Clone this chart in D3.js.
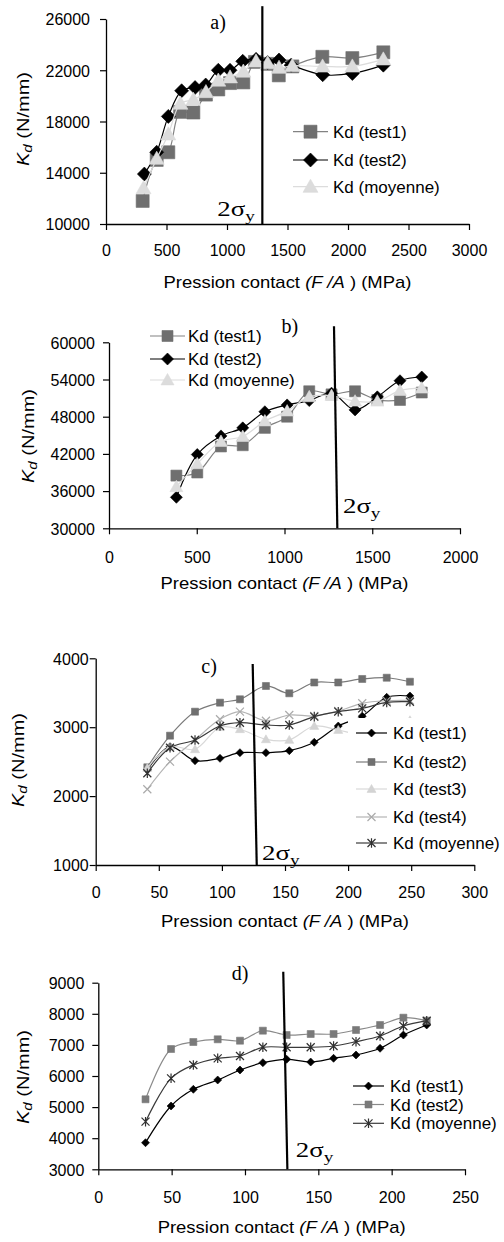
<!DOCTYPE html>
<html><head><meta charset="utf-8">
<script src="https://cdn.jsdelivr.net/npm/d3@7"></script>
<style>
body{margin:0;background:#fff}
svg{display:block}
text{font-family:"Liberation Sans",Arial,sans-serif;fill:#000}
.serif{font-family:"Liberation Serif","Times New Roman",serif}
</style>
</head><body>
<svg id="chart" width="504" height="1242"></svg>
<script>
// ---------- Panel a ----------
const aX1 = [303, 419, 515, 612, 722, 826, 928, 1025, 1135, 1231, 1336, 1428, 1540, 1788, 2036, 2292];
const aX2 = [317, 419, 515, 625, 736, 824, 928, 1025, 1130, 1240, 1336, 1430, 1530, 1791, 2036, 2292];
const aXm = [310, 419, 515, 615, 722, 826, 928, 1025, 1135, 1240, 1336, 1430, 1540, 1790, 2036, 2292];
const aTest1   = [11800, 15000, 15600, 18750, 18700, 20100, 20500, 21000, 21050, 22650, 22500, 21600, 22300, 23050, 22950, 23400];
const aTest2   = [13900, 15600, 18400, 20400, 20650, 20850, 22000, 22000, 22700, 22850, 22600, 22800, 22400, 21650, 21750, 22400];
const aMoyenne = [12800, 15100, 17000, 19400, 19700, 20300, 21200, 21450, 21900, 22700, 22550, 22200, 22350, 22300, 22300, 22850];
const aXTicks = [0, 500, 1000, 1500, 2000, 2500, 3000];
const aYTicks = [10000, 14000, 18000, 22000, 26000];
const aSigma = [[1292, 27000], [1292, 10000]];

// ---------- Panel b ----------
const bX = [384, 503, 638, 762, 888, 1015, 1141, 1268, 1402, 1529, 1658, 1782];
const bTest1   = [38500, 39000, 43200, 43400, 46200, 48000, 52100, 51600, 52100, 50700, 50700, 51900];
const bTest2   = [35000, 41900, 44900, 46200, 48800, 49900, 50600, 51800, 49100, 51200, 53800, 54400];
const bMoyenne = [36700, 40400, 44000, 44800, 47300, 48900, 51200, 51400, 50500, 50500, 52200, 52600];
const bXTicks = [0, 500, 1000, 1500, 2000];
const bYTicks = [30000, 36000, 42000, 48000, 54000, 60000];
const bSigma = [[1282, 62600], [1301, 30000]];

// ---------- Panel c ----------
const cX = [40.9, 58.9, 78.7, 98.5, 114.3, 134.9, 153.4, 173.2, 192.2, 211.2, 230.6, 249];
const cTest1   = [2380, 2717, 2514, 2548, 2630, 2630, 2659, 2781, 3017, 3160, 3434, 3453];
const cTest2   = [2418, 2877, 3225, 3356, 3405, 3598, 3492, 3649, 3649, 3700, 3718, 3660];
const cTest3   = [2408, 2717, 2679, 3000, 2970, 2824, 2815, 3017, 2959, 2900, 3050, 3100];
const cTest4   = [2099, 2500, 2814, 3115, 3225, 3094, 3177, 3163, 3235, 3347, 3385, 3390];
const cMoyenne = [2331, 2702, 2814, 3017, 3065, 3032, 3032, 3153, 3225, 3274, 3361, 3370];
const cXTicks = [0, 50, 100, 150, 200, 250, 300];
const cYTicks = [1000, 2000, 3000, 4000];
const cSigma = [[124.4, 3917], [127.6, 1000]];

// ---------- Panel d ----------
const dX = [32.2, 49.6, 64.8, 81.4, 96.6, 112.2, 128.4, 144.8, 160.4, 175.7, 192.1, 208, 223.9];
const dTest1   = [3855, 5035, 5572, 5871, 6193, 6428, 6537, 6450, 6569, 6675, 6891, 7318, 7640];
const dTest2   = [5251, 6868, 7093, 7180, 7135, 7457, 7318, 7350, 7350, 7479, 7640, 7875, 7778];
const dMoyenne = [4531, 5926, 6354, 6569, 6643, 6923, 6923, 6923, 6965, 7103, 7286, 7608, 7778];
const dXTicks = [0, 50, 100, 150, 200, 250];
const dYTicks = [3000, 4000, 5000, 6000, 7000, 8000, 9000];
const dSigma = [[126.1, 9354], [128.9, 3000]];

// panel labels and annotation anchors (data coordinates)
const panelLabels = ["a)", "b)", "c)", "d)"];
const panelLabelPos = [[926, 25220], [1031, 61500], [89.8, 3787], [96.6, 9087]];
const sigmaLabelPos = [[920, 10620], [1333, 32470], [131.8, 1073], [134.6, 3395]];

// ---------- drawing ----------
const svg = d3.select("#chart");

function markerPath(type, r) {
  switch (type) {
    case "square": return `M${-r},${-r}h${2*r}v${2*r}h${-2*r}Z`;
    case "diamond": return `M0,${-r}L${r},0L0,${r}L${-r},0Z`;
    case "triangle": return `M0,${-r}L${r},${r*0.75}L${-r},${r*0.75}Z`;
    case "x": return `M${-r},${-r}L${r},${r}M${-r},${r}L${r},${-r}`;
    case "star": return `M${-r},${-r}L${r},${r}M${-r},${r}L${r},${-r}M0,${-r*1.2}L0,${r*1.2}`;
  }
}
const filled = t => t === "square" || t === "diamond" || t === "triangle";

const gray = {fill:"#6f6f6f", line:"#828282"};
const black = {fill:"#000", line:"#000"};
const light = {fill:"#dcdcdc", line:"#dcdcdc"};

const panels = [
  { xDom:[0,3000], xR:[106,469], yDom:[10000,26000], yR:[224,19], xTicks:aXTicks, yTicks:aYTicks,
    yPad:16, xLabOff:32, titleY:288, yTitle:[23,119], sigma:aSigma,
    series:[
      {name:"Kd (test1)", xs:aX1, ys:aTest1, type:"square", r:6.5, c:gray, w:1.2},
      {name:"Kd (test2)", xs:aX2, ys:aTest2, type:"diamond", r:7, c:black, w:1.2},
      {name:"Kd (moyenne)", xs:aXm, ys:aMoyenne, type:"triangle", r:7.5, c:light, w:1.2}],
    legend:{x0:293, x1:328, tx:333, ys:[131.7,160,186.7], box:null}},
  { xDom:[0,2000], xR:[109,460], yDom:[30000,60000], yR:[528.3,342.3], xTicks:bXTicks, yTicks:bYTicks,
    yPad:14, xLabOff:35, titleY:589, yTitle:[28,436], sigma:bSigma,
    series:[
      {name:"Kd (test1)", xs:bX, ys:bTest1, type:"square", r:5.5, c:gray, w:1.2},
      {name:"Kd (test2)", xs:bX, ys:bTest2, type:"diamond", r:6, c:black, w:1.2},
      {name:"Kd (moyenne)", xs:bX, ys:bMoyenne, type:"triangle", r:6.5, c:light, w:1.2}],
    legend:{x0:150, x1:185, tx:188, ys:[336,359,380], box:null}},
  { xDom:[0,300], xR:[95.7,474.3], yDom:[1000,4000], yR:[865,658.3], xTicks:cXTicks, yTicks:cYTicks,
    yPad:7, xLabOff:33, titleY:927, yTitle:[18,760], sigma:cSigma,
    series:[
      {name:"Kd (test1)", xs:cX, ys:cTest1, type:"diamond", r:4, c:black, w:1.2},
      {name:"Kd (test2)", xs:cX, ys:cTest2, type:"square", r:3.5, c:{fill:"#707070",line:"#7a7a7a"}, w:1.2},
      {name:"Kd (test3)", xs:cX, ys:cTest3, type:"triangle", r:4.5, c:{fill:"#d4d4d4",line:"#d8d8d8"}, w:1.2},
      {name:"Kd (test4)", xs:cX, ys:cTest4, type:"x", r:4, c:{fill:"#aaaaaa",line:"#b4b4b4"}, w:1.2},
      {name:"Kd (moyenne)", xs:cX, ys:cMoyenne, type:"star", r:4, c:{fill:"#303030",line:"#3a3a3a"}, w:1.2}],
    legend:{x0:356, x1:387, tx:393, ys:[733,762,789,817,843], box:[348,718,504,857]}},
  { xDom:[0,250], xR:[98.3,465], yDom:[3000,9000], yR:[1169.3,982.7], xTicks:dXTicks, yTicks:dYTicks,
    yPad:14, xLabOff:34, titleY:1233, yTitle:[23,1077], sigma:dSigma,
    series:[
      {name:"Kd (test1)", xs:dX, ys:dTest1, type:"diamond", r:4, c:black, w:1.2},
      {name:"Kd (test2)", xs:dX, ys:dTest2, type:"square", r:3.5, c:{fill:"#7a7a7a",line:"#8a8a8a"}, w:1.2},
      {name:"Kd (moyenne)", xs:dX, ys:dMoyenne, type:"star", r:4, c:{fill:"#303030",line:"#3a3a3a"}, w:1.2}],
    legend:{x0:353, x1:384, tx:390, ys:[1086,1104.5,1123.3], box:null}}
];

panels.forEach((p, i) => {
  const x = d3.scaleLinear().domain(p.xDom).range(p.xR);
  const y = d3.scaleLinear().domain(p.yDom).range(p.yR);
  const g = svg.append("g");

  // series
  const line = d3.line().x(d => x(d[0])).y(d => y(d[1])).curve(d3.curveCatmullRom.alpha(0.5));
  p.series.forEach(s => {
    const pts = s.xs.map((v, k) => [v, s.ys[k]]);
    g.append("path").attr("d", line(pts)).attr("fill", "none")
      .attr("stroke", s.c.line).attr("stroke-width", s.w);
    g.selectAll(null).data(pts).enter().append("path")
      .attr("transform", d => `translate(${x(d[0])},${y(d[1])})`)
      .attr("d", markerPath(s.type, s.r))
      .attr("fill", filled(s.type) ? s.c.fill : "none")
      .attr("stroke", s.c.fill).attr("stroke-width", filled(s.type) ? 0.6 : 1.2);
  });

  // axes
  const yAxis = d3.axisLeft(y).tickValues(p.yTicks).tickSize(6).tickSizeOuter(0).tickPadding(p.yPad - 6)
    .tickFormat(d3.format("d"));
  const ya = g.append("g").attr("transform", `translate(${p.xR[0]},0)`).call(yAxis);
  const xAxis = d3.axisBottom(x).tickValues(p.xTicks).tickSize(6).tickSizeOuter(0).tickPadding(0)
    .tickFormat(d3.format("d"));
  const xa = g.append("g").attr("transform", `translate(0,${p.yR[0]})`).call(xAxis);
  [ya, xa].forEach(a => {
    a.select(".domain").attr("stroke", "#000").attr("stroke-width", 1.3);
    a.selectAll(".tick line").attr("stroke", "#000").attr("stroke-width", 1.2);
    a.selectAll("text").style("font-family", '"Liberation Sans",Arial,sans-serif')
      .style("font-size", "16px").attr("fill", "#000");
  });
  ya.selectAll("text").attr("dy", "0.36em");
  xa.selectAll("text").attr("dy", null).attr("y", p.xLabOff);

  // sigma line
  g.append("line")
    .attr("x1", x(p.sigma[0][0])).attr("y1", y(p.sigma[0][1]))
    .attr("x2", x(p.sigma[1][0])).attr("y2", y(p.sigma[1][1]))
    .attr("stroke", "#000").attr("stroke-width", 2.2);

  // panel label
  g.append("text").attr("class", "serif")
    .attr("x", x(panelLabelPos[i][0])).attr("y", y(panelLabelPos[i][1]))
    .attr("text-anchor", "middle").style("font-size", "20px").text(panelLabels[i]);

  // 2 sigma_y
  const sg = g.append("g")
    .attr("transform", `translate(${x(sigmaLabelPos[i][0])},${y(sigmaLabelPos[i][1])}) scale(1.28,1)`);
  const st = sg.append("text").attr("class", "serif").style("font-size", "21px");
  st.append("tspan").text("2σ");
  st.append("tspan").attr("dy", 5).style("font-size", "15px").text("y");

  // x title
  const xt = g.append("text").attr("x", (p.xR[0] + p.xR[1]) / 2).attr("y", p.titleY)
    .attr("text-anchor", "middle").style("font-size", "17px")
    .attr("textLength", 248).attr("lengthAdjust", "spacingAndGlyphs");
  xt.append("tspan").text("Pression contact ");
  xt.append("tspan").style("font-style", "italic").text("(F /A");
  xt.append("tspan").text(" ) (MPa)");

  // y title
  const yt = g.append("text")
    .attr("transform", `translate(${p.yTitle[0]},${p.yTitle[1]}) rotate(-90)`)
    .attr("text-anchor", "middle").attr("dy", "0.36em").style("font-size", "16px")
    .attr("textLength", 94).attr("lengthAdjust", "spacingAndGlyphs");
  yt.append("tspan").style("font-style", "italic").text("K");
  yt.append("tspan").style("font-style", "italic").style("font-size", "12px").attr("dy", 3).text("d");
  yt.append("tspan").attr("dy", -3).text(" (N/mm)");

  // legend
  const L = p.legend;
  const lg = g.append("g");
  if (L.box) {
    lg.append("rect").attr("x", L.box[0]).attr("y", L.box[1])
      .attr("width", L.box[2] - L.box[0]).attr("height", L.box[3] - L.box[1]).attr("fill", "#fff");
  }
  p.series.forEach((s, k) => {
    const yy = L.ys[k];
    lg.append("line").attr("x1", L.x0).attr("x2", L.x1).attr("y1", yy).attr("y2", yy)
      .attr("stroke", s.c.line).attr("stroke-width", s.w);
    lg.append("path").attr("transform", `translate(${(L.x0 + L.x1) / 2},${yy})`)
      .attr("d", markerPath(s.type, s.r))
      .attr("fill", filled(s.type) ? s.c.fill : "none")
      .attr("stroke", s.c.fill).attr("stroke-width", filled(s.type) ? 0.6 : 1.2);
    lg.append("text").attr("x", L.tx).attr("y", yy).attr("dy", "0.36em")
      .style("font-size", "17px").text(s.name);
  });
});
</script>
</body></html>
